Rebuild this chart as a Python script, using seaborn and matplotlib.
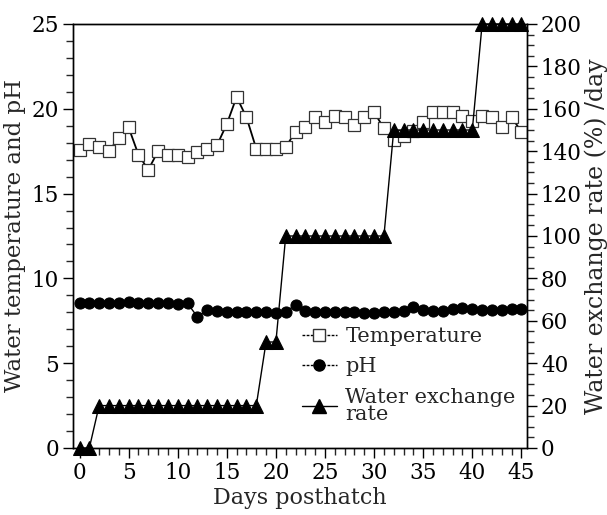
import matplotlib
matplotlib.use("Agg")
import matplotlib.pyplot as plt
from matplotlib.lines import Line2D
from matplotlib.ticker import MultipleLocator
import seaborn as sns
import pandas as pd

days = list(range(46))
temperature = [17.6, 17.95, 17.75, 17.5, 18.3, 18.9, 17.3, 16.4, 17.5, 17.3,
               17.3, 17.15, 17.45, 17.65, 17.85, 19.1, 20.7, 19.5, 17.65, 17.65,
               17.65, 17.75, 18.65, 18.9, 19.5, 19.25, 19.55, 19.5, 19.05, 19.5,
               19.8, 18.85, 18.15, 18.4, 18.7, 19.2, 19.8, 19.8, 19.8, 19.55,
               19.3, 19.55, 19.5, 18.95, 19.5, 18.65]
ph = [8.53, 8.53, 8.53, 8.53, 8.53, 8.63, 8.57, 8.53, 8.53, 8.53,
      8.49, 8.53, 7.74, 8.14, 8.08, 8.04, 8.04, 8.04, 8.04, 8.04,
      7.98, 8.04, 8.43, 8.10, 8.04, 8.04, 8.04, 8.02, 8.00, 7.98,
      7.98, 8.00, 8.04, 8.10, 8.33, 8.12, 8.10, 8.10, 8.18, 8.25,
      8.18, 8.15, 8.12, 8.15, 8.18, 8.18]
exchange = [0, 0] + [20] * 17 + [50, 50] + [100] * 11 + [150] * 9 + [200] * 5

df = pd.DataFrame({"day": days, "temp": temperature, "ph": ph, "ex": exchange})

sns.set_style("ticks")
plt.rcParams["font.family"] = ["DejaVu Serif"]
plt.rcParams["font.size"] = 15.5

fig = plt.figure(figsize=(6.07, 5.15), dpi=100)
ax = fig.add_axes([0.1203, 0.1301, 0.7479, 0.8233])
ax2 = ax.twinx()

sns.lineplot(data=df, x="day", y="temp", ax=ax, color="black", linewidth=1.3,
             marker="s", markersize=9, markerfacecolor="white",
             markeredgecolor="#333333", markeredgewidth=0.9)
sns.lineplot(data=df, x="day", y="ph", ax=ax, color="black", linewidth=1.0,
             marker="o", markersize=8, markerfacecolor="black",
             markeredgecolor="black")
sns.lineplot(data=df, x="day", y="ex", ax=ax2, color="black", linewidth=1.0,
             marker="^", markersize=10, markerfacecolor="black",
             markeredgecolor="black", clip_on=False)

ax.set_xlim(-0.66, 45.57)
ax.set_ylim(0, 25)
ax2.set_ylim(0, 200)

ax.xaxis.set_major_locator(MultipleLocator(5))
ax.xaxis.set_minor_locator(MultipleLocator(1))
ax.yaxis.set_major_locator(MultipleLocator(5))
ax.yaxis.set_minor_locator(MultipleLocator(1))
ax2.yaxis.set_major_locator(MultipleLocator(20))
ax2.yaxis.set_minor_locator(MultipleLocator(5))

for a in (ax, ax2):
    a.tick_params(which="major", direction="out", length=7, width=1, labelsize=15.5,
                  colors="black", pad=3)
    a.tick_params(which="minor", direction="out", length=5, width=1)
    for s in a.spines.values():
        s.set_visible(True)
        s.set_linewidth(1.0)
        s.set_color("black")

ax.set_xlabel("Days posthatch", fontsize=16, labelpad=2)
ax.set_ylabel("Water temperature and pH", fontsize=16.5, labelpad=4)
ax2.set_ylabel("Water exchange rate (%) /day", fontsize=17, labelpad=2)

handles = [
    Line2D([], [], color="black", linestyle=(0, (2, 1)), linewidth=1, marker="s",
           markersize=9, markerfacecolor="white", markeredgecolor="#333333"),
    Line2D([], [], color="black", linestyle=(0, (2, 1)), linewidth=1, marker="o",
           markersize=8, markerfacecolor="black"),
    Line2D([], [], color="black", linestyle="-", linewidth=1, marker="^",
           markersize=10, markerfacecolor="black"),
]
labels = ["Temperature", "pH", "Water exchange\nrate"]
leg = ax2.legend(handles, labels, loc="upper left", bbox_to_anchor=(0.485, 0.305),
                 frameon=False, fontsize=15, handlelength=1.7, handletextpad=0.4,
                 labelspacing=0.55, borderaxespad=0)
for t in leg.get_texts():
    t.set_linespacing(0.9)

fig.savefig("out.png", dpi=100)
